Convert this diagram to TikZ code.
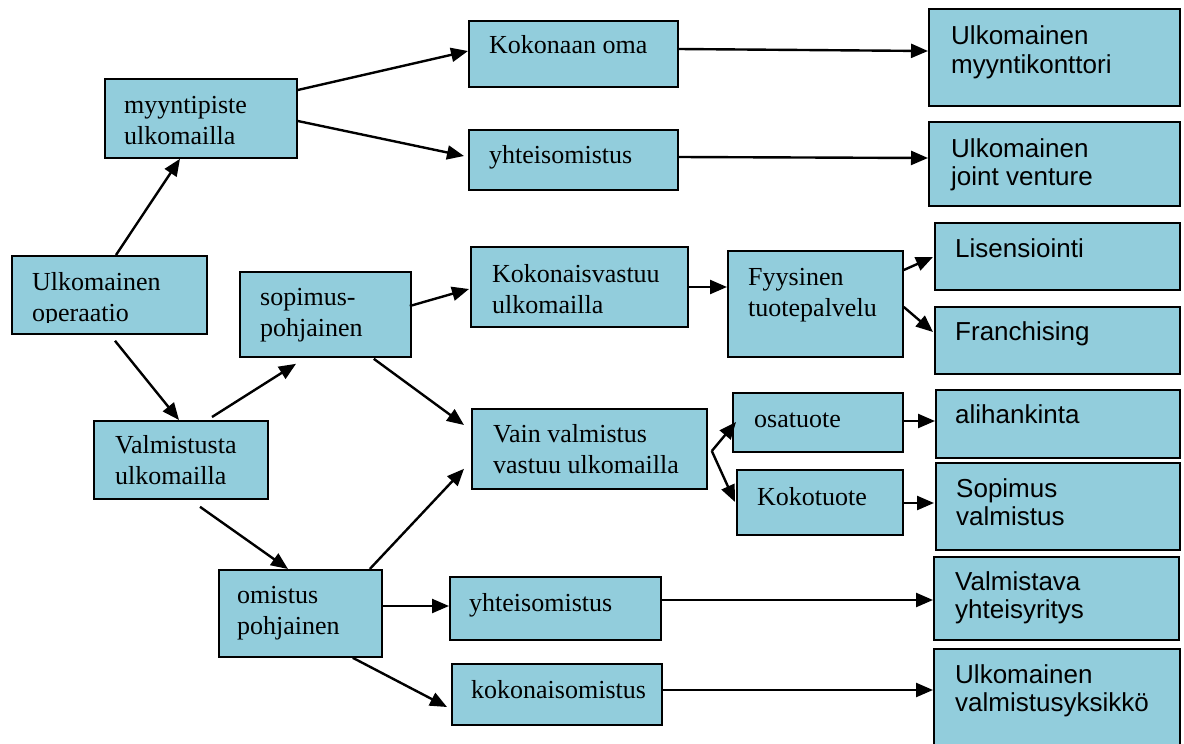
\documentclass[tikz,border=0pt]{standalone}
\usepackage{fontspec}
\setmainfont{Liberation Serif}
\newfontfamily\arialish{Liberation Sans}
\usetikzlibrary{arrows.meta,calc}
\definecolor{boxfill}{RGB}{146,205,220}
% two stacked lines, baseline at the first line
\newcommand\twoln[2]{\vtop{\hbox{#1}\hbox{#2}}}

\begin{document}
\begin{tikzpicture}[x=1pt,y=-1pt,
  box/.style={draw=black, line width=1.8pt, fill=boxfill, anchor=north west, inner sep=0pt},
  serif/.style={anchor=base west, inner sep=0pt, font=\fontsize{26}{31}\selectfont},
  sans/.style={anchor=base west, inner sep=0pt, font=\arialish\fontsize{26}{28.5}\selectfont},
  arr/.style={line width=2.4pt, -{Triangle[length=17pt,width=14pt]}}]
\useasboundingbox (0,0) rectangle (1184,744);

% ---- boxes ----
\node[box, minimum width=195pt, minimum height=78pt] (op)   at (11,255)  {};
\node[box, minimum width=192pt, minimum height=79pt] (myy)  at (104,78)  {};
\node[box, minimum width=174pt, minimum height=78pt] (val)  at (93,420)  {};
\node[box, minimum width=171pt, minimum height=85pt] (sop)  at (239,271) {};
\node[box, minimum width=163pt, minimum height=87pt] (omi)  at (218,569) {};
\node[box, minimum width=209pt, minimum height=66pt] (koko) at (468,20)  {};
\node[box, minimum width=209pt, minimum height=60pt] (yht1) at (468,129) {};
\node[box, minimum width=217pt, minimum height=80pt] (kvas) at (470,246) {};
\node[box, minimum width=235pt, minimum height=80pt] (vain) at (471,408) {};
\node[box, minimum width=211pt, minimum height=63pt] (yht2) at (449,576) {};
\node[box, minimum width=210pt, minimum height=61pt] (kom)  at (451,663) {};
\node[box, minimum width=175pt, minimum height=106pt] (fyy) at (727,250) {};
\node[box, minimum width=170pt, minimum height=59pt] (osa)  at (732,392) {};
\node[box, minimum width=166pt, minimum height=65pt] (kok)  at (736,469) {};
\node[box, minimum width=251pt, minimum height=97pt] (umk)  at (928,8)   {};
\node[box, minimum width=251pt, minimum height=84pt] (ujv)  at (928,121) {};
\node[box, minimum width=245pt, minimum height=67pt] (lis)  at (934,222) {};
\node[box, minimum width=245pt, minimum height=67pt] (fra)  at (934,306) {};
\node[box, minimum width=244pt, minimum height=68pt] (ali)  at (935,389) {};
\node[box, minimum width=244pt, minimum height=87pt] (sva)  at (935,462) {};
\node[box, minimum width=245pt, minimum height=83pt] (vyy)  at (933,556) {};
\node[box, minimum width=246pt, minimum height=102pt] (uvy) at (933,648) {};

% ---- labels ----
\begin{scope}
  \clip (11,255) rectangle (206,322);
  \node[serif] (t-op) at (32,290) {\twoln{Ulkomainen}{operaatio}};
\end{scope}
\node[serif] (t-myy)  at (124,113) {\twoln{myyntipiste}{ulkomailla}};
\node[serif] (t-val)  at (115,453) {\twoln{Valmistusta}{ulkomailla}};
\node[serif] (t-sop)  at (260,305) {\twoln{sopimus-}{pohjainen}};
\node[serif] (t-omi)  at (237,603) {\twoln{omistus}{pohjainen}};
\node[serif] (t-koko) at (489,53)  {Kokonaan oma};
\node[serif] (t-yht1) at (489,163) {yhteisomistus};
\node[serif] (t-kvas) at (492,282) {\twoln{Kokonaisvastuu}{ulkomailla}};
\node[serif] (t-vain) at (493,442) {\twoln{Vain valmistus}{vastuu ulkomailla}};
\node[serif] (t-yht2) at (469,611) {yhteisomistus};
\node[serif] (t-kom)  at (471,698) {kokonaisomistus};
\node[serif] (t-fyy)  at (748,285) {\twoln{Fyysinen}{tuotepalvelu}};
\node[serif] (t-osa)  at (754,427) {osatuote};
\node[serif] (t-kok)  at (757,505) {Kokotuote};
\node[sans]  (t-umk)  at (951,45)  {\twoln{Ulkomainen}{myyntikonttori}};
\node[sans]  (t-ujv)  at (951,157) {\twoln{Ulkomainen}{joint venture}};
\node[sans]  (t-lis)  at (955,257) {Lisensiointi};
\node[sans]  (t-fra)  at (955,340) {Franchising};
\node[sans]  (t-ali)  at (955,423) {alihankinta};
\node[sans]  (t-sva)  at (956,497) {\twoln{Sopimus}{valmistus}};
\node[sans]  (t-vyy)  at (955,590) {\twoln{Valmistava}{yhteisyritys}};
\node[sans]  (t-uvy)  at (955,683) {\twoln{Ulkomainen}{valmistusyksikkö}};

% ---- connectors ----
\draw[arr] ($(op.north west)+(105,0)$)  -- ($(myy.south west)+(76,0)$);
\draw[arr] ($(op.south west)+(104,6)$)  -- ($(val.north west)+(86,0)$);
\draw[arr] ($(val.north west)+(119,-3)$) -- ($(sop.south west)+(57,6)$);
\draw[arr] ($(val.south west)+(107,7)$) -- ($(omi.north west)+(70,0)$);
\draw[arr] ($(myy.north east)+(0,12)$)  -- ($(koko.north west)+(0,31)$);
\draw[arr] ($(myy.north east)+(0,43)$)  -- ($(yht1.north west)+(-4,27)$);
\draw[arr] ($(koko.north east)+(0,29)$) -- ($(umk.north west)+(0,43)$);
\draw[arr] ($(yht1.north east)+(0,28)$) -- ($(ujv.north west)+(0,37)$);
\draw[arr] ($(sop.north east)+(-2,35)$) -- ($(kvas.north west)+(-1,43)$);
\draw[arr] ($(sop.south east)+(-38,1)$) -- ($(vain.north west)+(-7,17)$);
\draw[arr] ($(omi.north east)+(-13,0)$) -- ($(vain.south west)+(-7,-21)$);
\draw[arr] ($(omi.north east)+(0,37)$)  -- ($(yht2.north west)+(0,30)$);
\draw[arr] ($(omi.south east)+(-30,0)$) -- ($(kom.north west)+(-4,44)$);
\draw[arr] ($(yht2.north east)+(0,24)$) -- ($(vyy.north west)+(0,44)$);
\draw[arr] ($(kom.north east)+(0,27)$)  -- ($(uvy.north west)+(0,42)$);
\draw[arr] ($(kvas.north east)+(0,41)$) -- ($(fyy.north west)+(0,37)$);
\draw[arr] ($(fyy.north east)+(0,20)$)  -- ($(lis.north west)+(-1,35)$);
\draw[arr] ($(fyy.north east)+(0,57)$)  -- ($(fra.north west)+(-1,26)$);
\draw[arr] ($(vain.north east)+(4,43)$) -- ($(osa.north west)+(4,30)$);
\draw[arr] ($(vain.north east)+(4,43)$) -- ($(kok.north west)+(-1,33)$);
\draw[arr] ($(osa.north east)+(0,29)$)  -- ($(ali.north west)+(0,32)$);
\draw[arr] ($(kok.north east)+(0,34)$)  -- ($(sva.north west)+(-1,41)$);
\end{tikzpicture}
\end{document}
